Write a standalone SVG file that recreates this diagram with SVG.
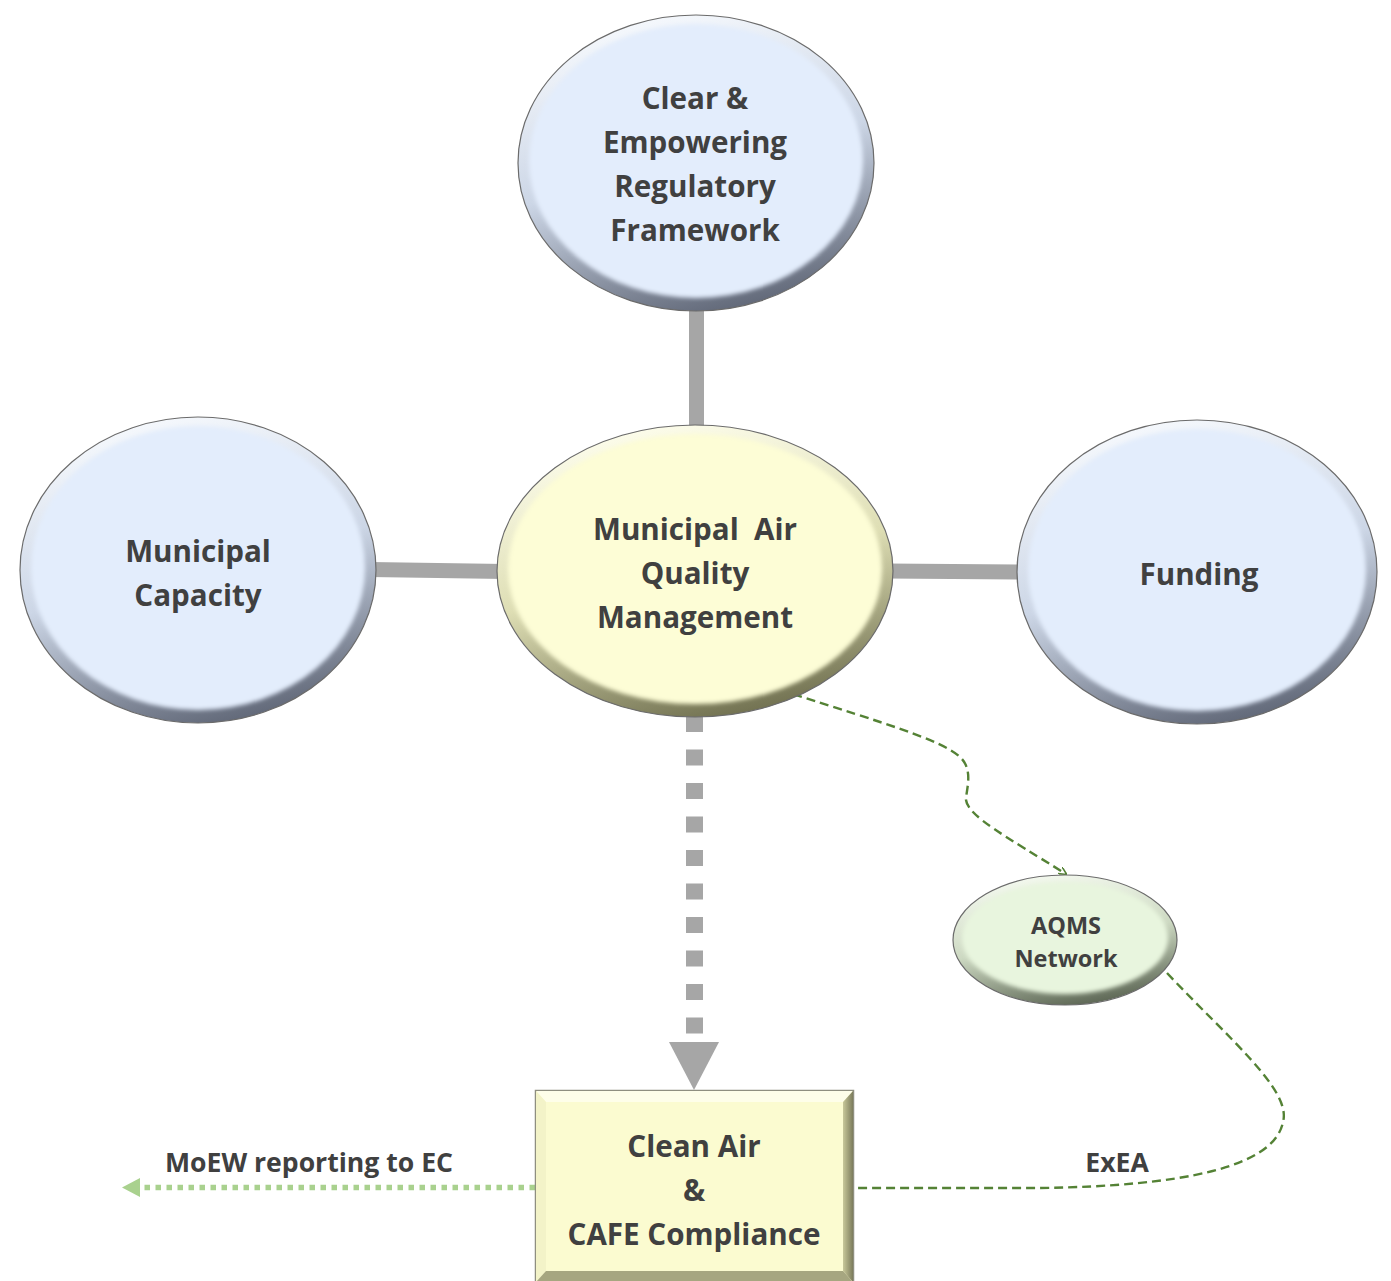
<svg xmlns="http://www.w3.org/2000/svg" width="1391" height="1281" viewBox="0 0 1391 1281">
  <defs>
    <style>
      .lbl { font-family: "Open Sans", "Liberation Sans", sans-serif; font-weight: 700; fill: #404040; text-anchor: middle; }
      .big { font-size: 29.6px; }
      .small { font-size: 23.5px; }
      .edge-lbl { font-size: 26.6px; }
      .bar { stroke: #a6a6a6; stroke-width: 15; fill: none; }
      .link { stroke: #548235; stroke-width: 2.4; stroke-dasharray: 9 5; fill: none; }
      .rim { stroke: #6b6b6b; stroke-width: 1.2; }
    </style>
    <linearGradient id="rimBlue" x1="0.35" y1="0" x2="0.65" y2="1">
      <stop offset="0" stop-color="#f6f9fd"/>
      <stop offset="0.5" stop-color="#ccd6e6"/>
      <stop offset="1" stop-color="#5e6575"/>
    </linearGradient>
    <linearGradient id="rimYellow" x1="0.35" y1="0" x2="0.65" y2="1">
      <stop offset="0" stop-color="#fdfdec"/>
      <stop offset="0.5" stop-color="#dedeb4"/>
      <stop offset="1" stop-color="#6e6e4e"/>
    </linearGradient>
    <linearGradient id="rimGreen" x1="0.35" y1="0" x2="0.65" y2="1">
      <stop offset="0" stop-color="#f4f9ef"/>
      <stop offset="0.5" stop-color="#cdd9c2"/>
      <stop offset="1" stop-color="#5a6452"/>
    </linearGradient>
    <linearGradient id="bevelRight" x1="0" y1="0" x2="1" y2="0">
      <stop offset="0" stop-color="#c8c89a"/>
      <stop offset="1" stop-color="#7c7c5c"/>
    </linearGradient>
    <filter id="soft" x="-10%" y="-10%" width="120%" height="120%">
      <feGaussianBlur stdDeviation="2.2"/>
    </filter>
    <marker id="tinyHead" viewBox="0 0 10 10" refX="9" refY="5" markerWidth="8" markerHeight="8" orient="auto" markerUnits="userSpaceOnUse">
      <path d="M0,0 L10,5 L0,10" fill="none" stroke="#548235" stroke-width="2"/>
    </marker>
  </defs>

  <rect width="1391" height="1281" fill="#ffffff"/>

  <!-- connectors -->
  <g id="connectors">
    <line class="bar" x1="696.5" y1="305" x2="696.5" y2="432"/>
    <line class="bar" x1="370" y1="569.5" x2="505" y2="571.5"/>
    <line class="bar" x1="886" y1="571" x2="1025" y2="572"/>
    <!-- dashed block arrow down to the compliance box -->
    <line x1="694.5" y1="716" x2="694.5" y2="1034" stroke="#a6a6a6" stroke-width="17" stroke-dasharray="16 17.5"/>
    <polygon points="669,1042 719,1042 694,1090" fill="#a6a6a6"/>
    <!-- monitoring links -->
    <path class="link" d="M793,694 C880,722 942,740 960,757 C974,770 966,790 966,800 C968,816 1005,836 1066,874" marker-end="url(#tinyHead)"/>
    <path class="link" d="M1167,973 C1228,1038 1292,1090 1283,1122 C1274,1168 1180,1186 1040,1188 L855,1188"/>
    <!-- reporting arrow -->
    <line x1="535" y1="1187.5" x2="140" y2="1187.5" stroke="#a9d18e" stroke-width="5.5" stroke-dasharray="5.5 5.5"/>
    <polygon points="122,1187.5 140,1178 140,1197" fill="#a9d18e"/>
  </g>

  <!-- nodes -->
  <g id="node-framework">
    <ellipse cx="696" cy="163" rx="178" ry="148" fill="url(#rimBlue)" class="rim"/>
    <ellipse cx="696" cy="161" rx="167" ry="137" fill="#e3edfc" filter="url(#soft)"/>
    <text class="lbl big" x="695" y="109">Clear &amp;</text>
    <text class="lbl big" x="695" y="153">Empowering</text>
    <text class="lbl big" x="695" y="197">Regulatory</text>
    <text class="lbl big" x="695" y="241">Framework</text>
  </g>

  <g id="node-capacity">
    <ellipse cx="198" cy="570" rx="178" ry="153" fill="url(#rimBlue)" class="rim"/>
    <ellipse cx="198" cy="568" rx="167" ry="142" fill="#e3edfc" filter="url(#soft)"/>
    <text class="lbl big" x="198" y="562">Municipal</text>
    <text class="lbl big" x="198" y="606">Capacity</text>
  </g>

  <g id="node-funding">
    <ellipse cx="1197" cy="572" rx="180" ry="152" fill="url(#rimBlue)" class="rim"/>
    <ellipse cx="1197" cy="570" rx="169" ry="141" fill="#e3edfc" filter="url(#soft)"/>
    <text class="lbl big" x="1199" y="585">Funding</text>
  </g>

  <g id="node-maqm">
    <ellipse cx="695" cy="571" rx="198" ry="146" fill="url(#rimYellow)" class="rim"/>
    <ellipse cx="695" cy="569" rx="187" ry="135" fill="#fdfdd6" filter="url(#soft)"/>
    <text class="lbl big" x="695" y="540" xml:space="preserve">Municipal  Air</text>
    <text class="lbl big" x="695" y="584">Quality</text>
    <text class="lbl big" x="695" y="628">Management</text>
  </g>

  <g id="node-aqms">
    <ellipse cx="1065" cy="940" rx="112" ry="65" fill="url(#rimGreen)" class="rim"/>
    <ellipse cx="1065" cy="938" rx="103" ry="56" fill="#e8f5de" filter="url(#soft)"/>
    <text class="lbl small" x="1066" y="934">AQMS</text>
    <text class="lbl small" x="1066" y="967">Network</text>
  </g>

  <g id="node-compliance">
    <rect x="535.5" y="1090.5" width="318" height="192" fill="#fbfbd0" stroke="#8f8f80" stroke-width="1.5"/>
    <polygon points="536,1091 853,1091 843,1102 546,1102" fill="#fefee9"/>
    <polygon points="536,1091 546,1102 546,1271 536,1282" fill="#f3f3c8"/>
    <polygon points="853,1091 853,1282 843,1271 843,1102" fill="url(#bevelRight)"/>
    <polygon points="536,1282 853,1282 843,1271 546,1271" fill="#a6a680"/>
    <text class="lbl big" x="694" y="1157">Clean Air</text>
    <text class="lbl big" x="694" y="1201">&amp;</text>
    <text class="lbl big" x="694" y="1245">CAFE Compliance</text>
  </g>

  <!-- link labels -->
  <g id="labels">
    <text class="lbl edge-lbl" x="309" y="1172">MoEW reporting to EC</text>
    <text class="lbl edge-lbl" x="1117" y="1172">ExEA</text>
  </g>
</svg>
